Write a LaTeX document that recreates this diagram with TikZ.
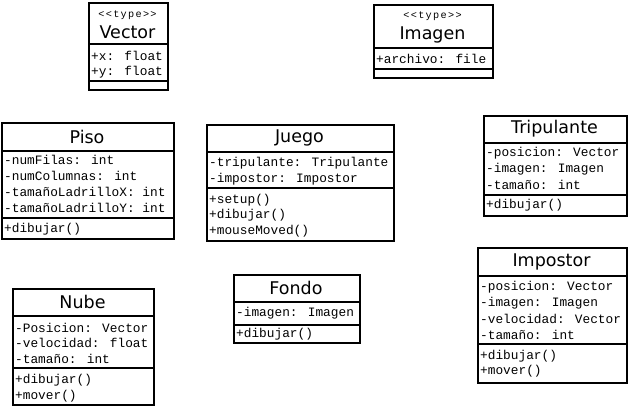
\documentclass[tikz,border=0pt]{standalone}
\usepackage{fontspec}
\newfontfamily\titlefont{DejaVu Sans}
\newfontfamily\monoattr{Liberation Mono}
\newfontfamily\monoster[LetterSpace=13]{Liberation Mono}
\newcommand{\attrfont}{\monoattr\fontsize{12.8}{14}\selectfont}
\newcommand{\sterfont}{\monoster\fontsize{10.2}{12}\selectfont}
\tikzset{
  cls/.style={draw=black, line width=2pt, fill=white, anchor=north west, inner sep=0pt},
  ln/.style={draw=black, line width=2pt},
  attr/.style={anchor=west, inner sep=0pt, font=\attrfont},
  cname/.style={anchor=center, inner sep=0pt, font=\titlefont\fontsize{17.5}{19}\selectfont},
  ster/.style={anchor=center, inner sep=0pt, font=\sterfont},
}
\begin{document}
\begin{tikzpicture}[x=1pt,y=-1pt]
\useasboundingbox[fill=white] (0,0) rectangle (629,407);

% ---- Vector ----
\node[cls, minimum width=79pt, minimum height=87pt] (vector) at (88,2) {};
\node[ster] (vectorst) at (127.5,15) {<<type>>};
\node[cname] (vectorn) at (127.5,32) {Vector};
\draw[ln] (88,44) -- (167,44);
\node[attr] (vx) at (91,56) {+x: float};
\node[attr] (vy) at (91,72) {+y: float};
\draw[ln] (88,81) -- (167,81);

% ---- Imagen ----
\node[cls, minimum width=119pt, minimum height=73pt] (imagen) at (373,4) {};
\node[ster] (imagenst) at (432.5,16) {<<type>>};
\node[cname] (imagenn) at (432.5,35) {Imagen};
\draw[ln] (373,48) -- (492,48);
\node[attr] (imga) at (376,59) {+archivo: file};
\draw[ln] (373,69) -- (492,69);

% ---- Piso ----
\node[cls, minimum width=172pt, minimum height=116pt] (piso) at (1,122) {};
\node[cname] (pison) at (87,136.5) {Piso};
\draw[ln] (1,151) -- (173,151);
\node[attr] (p1) at (4,160) {-numFilas: int};
\node[attr] (p2) at (4,176) {-numColumnas: int};
\node[attr] (p3) at (4,192) {-tamañoLadrilloX: int};
\node[attr] (p4) at (4,208) {-tamañoLadrilloY: int};
\draw[ln] (1,218) -- (173,218);
\node[attr] (p5) at (4,229) {+dibujar()};

% ---- Juego ----
\node[cls, minimum width=187pt, minimum height=116pt] (juego) at (206,124) {};
\node[cname] (juegon) at (299.5,138) {Juego};
\draw[ln] (206,152) -- (393,152);
\node[attr] (j1) at (209,163) {-tripulante: Tripulante};
\node[attr] (j2) at (209,179) {-impostor: Impostor};
\draw[ln] (206,188) -- (393,188);
\node[attr] (j3) at (209,200) {+setup()};
\node[attr] (j4) at (209,215) {+dibujar()};
\node[attr] (j5) at (209,231) {+mouseMoved()};

% ---- Tripulante ----
\node[cls, minimum width=143pt, minimum height=100pt] (trip) at (483,115) {};
\node[cname] (tripn) at (554.5,129) {Tripulante};
\draw[ln] (483,143) -- (626,143);
\node[attr] (t1) at (486,153) {-posicion: Vector};
\node[attr] (t2) at (486,169) {-imagen: Imagen};
\node[attr] (t3) at (486,185) {-tamaño: int};
\draw[ln] (483,195) -- (626,195);
\node[attr] (t4) at (486,205) {+dibujar()};

% ---- Impostor ----
\node[cls, minimum width=149pt, minimum height=135pt] (impo) at (477,247) {};
\node[cname] (impon) at (551.5,262) {Impostor};
\draw[ln] (477,276) -- (626,276);
\node[attr] (i1) at (480,287) {-posicion: Vector};
\node[attr] (i2) at (480,303) {-imagen: Imagen};
\node[attr] (i3) at (480,319) {-velocidad: Vector};
\node[attr] (i4) at (480,335) {-tamaño: int};
\draw[ln] (477,344) -- (626,344);
\node[attr] (i5) at (480,356) {+dibujar()};
\node[attr] (i6) at (480,371) {+mover()};

% ---- Nube ----
\node[cls, minimum width=141pt, minimum height=116pt] (nube) at (12,288) {};
\node[cname] (nuben) at (82.5,302) {Nube};
\draw[ln] (12,316) -- (153,316);
\node[attr] (n1) at (15,328) {-Posicion: Vector};
\node[attr] (n2) at (15,343) {-velocidad: float};
\node[attr] (n3) at (15,359) {-tamaño: int};
\draw[ln] (12,368) -- (153,368);
\node[attr] (n4) at (15,380) {+dibujar()};
\node[attr] (n5) at (15,396) {+mover()};

% ---- Fondo ----
\node[cls, minimum width=126pt, minimum height=68pt] (fondo) at (233,274) {};
\node[cname] (fondon) at (296,288) {Fondo};
\draw[ln] (233,302) -- (359,302);
\node[attr] (f1) at (236,313) {-imagen: Imagen};
\draw[ln] (233,325) -- (359,325);
\node[attr] (f2) at (236,334) {+dibujar()};
\end{tikzpicture}
\end{document}
